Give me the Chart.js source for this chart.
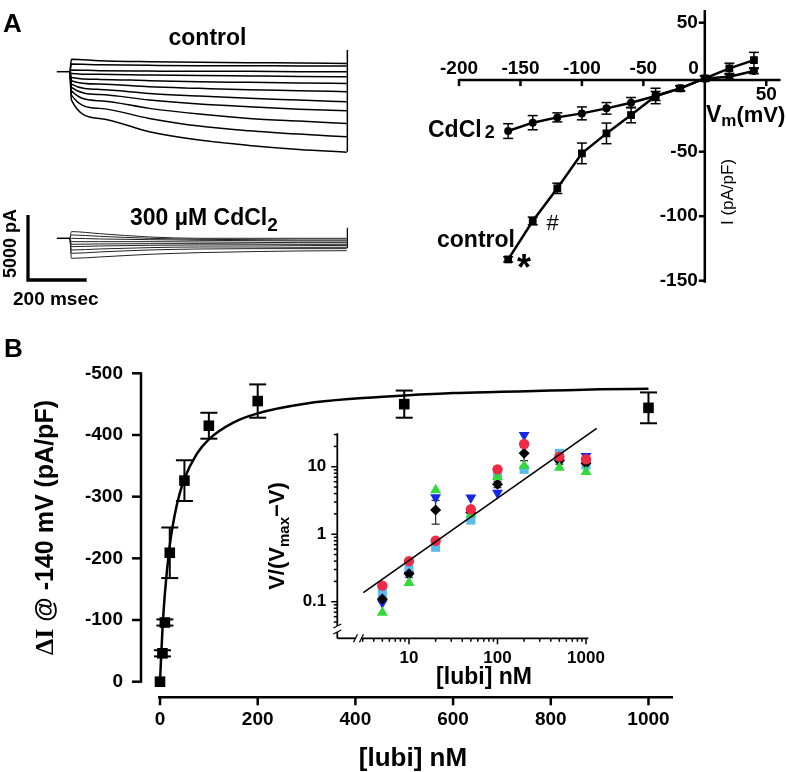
<!DOCTYPE html>
<html><head><meta charset="utf-8"><title>Lubiprostone figure</title>
<script src="https://cdn.jsdelivr.net/npm/chart.js@4.4.1/dist/chart.umd.min.js"></script>
<style>
html,body{margin:0;padding:0;background:#fff;}
#fig{position:relative;width:786px;height:772px;background:#fff;overflow:hidden;}
#fig canvas{position:absolute;left:0;top:0;width:786px;height:772px;}
</style></head>
<body><div id="fig">
<canvas id="cCtrl" width="786" height="772"></canvas>
<canvas id="cCd" width="786" height="772"></canvas>
<canvas id="cIV" width="786" height="772"></canvas>
<canvas id="cB" width="786" height="772"></canvas>
<canvas id="cIn" width="786" height="772"></canvas>
</div>
<script>
// ---------------- DATA ----------------
// Panel A: current traces (time in ms, current in pA)
const traceTimes = [5, 100, 270, 440, 610, 780, 943];
const controlTraces = [
  [950, 850, 770, 720, 690, 670, 640],
  [590, 540, 490, 460, 460, 440, 440],
  [130, 80, 50, 30, 30, 0, 0],
  [-130, -200, -260, -300, -330, -360, -385],
  [-440, -590, -690, -770, -820, -870, -900],
  [-690, -950, -1160, -1280, -1390, -1460, -1540],
  [-950, -1360, -1670, -1870, -2050, -2180, -2310],
  [-1210, -1750, -2180, -2490, -2700, -2880, -3000],
  [-1460, -2230, -2820, -3260, -3590, -3800, -3980],
  [-1800, -2820, -3590, -4180, -4540, -4800, -5000],
  [-2180, -3590, -4620, -5260, -5670, -5980, -6190]
];
const cdTraces = [
  [513, 359, 103, 0, 0, 0, 0],
  [257, 154, 0, -77, -103, -128, -128],
  [0, -51, -103, -154, -180, -205, -205],
  [-257, -257, -257, -282, -308, -334, -334],
  [-462, -436, -411, -411, -436, -462, -462],
  [-642, -590, -539, -513, -513, -539, -565],
  [-898, -821, -719, -667, -667, -693, -693],
  [-1155, -1052, -898, -821, -796, -796, -796],
  [-1540, -1437, -1232, -1104, -1027, -975, -950]
];
const holdingTimes = [-45, 0];
const tailTime = 945;
const controlTail = [1670, -6150];
const cdTail = [815, -770];
const scaleBarMs = 200;
const scaleBarPA = 5000;

// Panel A: I–V relation (mV, pA/pF)
const ivVoltages = [-160, -140, -120, -100, -80, -60, -40, -20, 0, 20, 40];
const ivControl = [-133.5, -103.7, -78.4, -51.3, -35.8, -21.6, -6.8, -0.9, 6.8, 14.6, 21];
const ivControlErr = [2, 3, 4, 8, 8, 6, 6, 2, 2, 4, 6];
const ivCd = [-34, -27.5, -23.4, -20.3, -16.4, -12, -6.8, -0.9, 6.8, 8.1, 12.5];
const ivCdErr = [5.7, 5.5, 3.5, 5, 4.5, 4, 3.5, 2, 2, 2, 2];
const ivXTicks = [-200, -150, -100, -50, 0, 50];
const ivYTicks = [50, -50, -100, -150];
const ivXAxisAt = 5.5;

// Panel B: dose response (nM, pA/pF)
const lubiConc = [0, 5, 10, 20, 50, 100, 200, 500, 1000];
const deltaI = [0, -46, -96, -209, -326, -415, -455, -450, -444];
const deltaIErr = [0, 5, 5, 41, 33, 21, 27, 22, 25];
const fitConc = [0, 5, 10, 20, 30, 40, 50, 75, 100, 150, 200, 300, 400, 500, 600, 700, 800, 900, 1000];
const fitDeltaI = [0, -84, -143, -221, -270, -304, -329, -369, -393, -420, -435, -451, -459, -464, -468, -470, -472, -474, -475];
const bXTicks = [0, 200, 400, 600, 800, 1000];
const bYTicks = [0, -100, -200, -300, -400, -500];

// Panel B inset: V/(Vmax-V) vs [lubi] (log-log)
const insetConc = [5, 10, 20, 50, 100, 200, 500, 1000];
const insetRed = [0.173, 0.40, 0.80, 2.34, 9.15, 21.7, 14.1, 12.9];
const insetLightBlue = [0.136, 0.30, 0.64, 1.62, 7.5, 9.15, 15.8, 10.6];
const insetBlue = [0.097, 0.249, 3.5, 3.47, 4.1, 29.5, 11.5, 14.4];
const insetGreen = [0.069, 0.19, 4.5, 1.97, 7.1, 10.3, 9.7, 8.4];
const insetMean = [0.11, 0.26, 2.29, 2.1, 5.5, 15.8, 12.4, 11.3];
const insetMeanErr = [0.01, 0.03, 0.88, 0.4, 0.6, 3.5, 1.5, 1.3];
const insetFitConc = [3.05, 1320];
const insetFitRatio = [0.136, 37];
const insetXTicks = [10, 100, 1000];
const insetYTicks = [0.1, 1, 10];

// ---------------- HELPERS ----------------
const SANS = "'Liberation Sans', Arial, Helvetica, sans-serif";
const SERIF = "'Liberation Serif', 'Times New Roman', serif";
const W = 786, H = 772;
const f = (sz, bold) => (bold ? 'bold ' : '') + sz + 'px ' + SANS;

function seg(ctx, pts, lw, col) {
  ctx.save(); ctx.beginPath(); ctx.lineWidth = lw; ctx.strokeStyle = col || '#000';
  ctx.moveTo(pts[0][0], pts[0][1]);
  for (let i = 1; i < pts.length; i++) ctx.lineTo(pts[i][0], pts[i][1]);
  ctx.stroke(); ctx.restore();
}
function label(ctx, s, x, y, font, align, base) {
  ctx.save(); ctx.font = font; ctx.fillStyle = '#000';
  ctx.textAlign = align || 'center'; ctx.textBaseline = base || 'middle';
  ctx.fillText(s, x, y); ctx.restore();
}
function runs(ctx, parts, x, y, rot, align) {
  ctx.save(); ctx.translate(x, y); if (rot) ctx.rotate(rot);
  ctx.fillStyle = '#000'; ctx.textAlign = 'left'; ctx.textBaseline = 'alphabetic';
  let w = 0;
  parts.forEach(p => { ctx.font = p.f; p.w = ctx.measureText(p.t).width + (p.gap || 0); w += p.w; });
  let cx = align === 'left' ? 0 : align === 'right' ? -w : -w / 2;
  parts.forEach(p => { ctx.font = p.f; ctx.fillText(p.t, cx + (p.gap || 0), p.dy || 0); cx += p.w; });
  ctx.restore();
}
function errorBars(chart, xs, ys, es, cap, lw, col) {
  const X = chart.scales.x, Y = chart.scales.y, ctx = chart.ctx;
  xs.forEach((xv, i) => {
    if (!es[i]) return;
    const px = X.getPixelForValue(xv);
    const lo = ys[i] - es[i];
    const y1 = Y.getPixelForValue(lo > 0 || Y.type !== 'logarithmic' ? lo : ys[i] * 0.5);
    const y2 = Y.getPixelForValue(ys[i] + es[i]);
    seg(ctx, [[px, y1], [px, y2]], lw, col);
    seg(ctx, [[px - cap, y1], [px + cap, y1]], lw, col);
    seg(ctx, [[px - cap, y2], [px + cap, y2]], lw, col);
  });
}
function pts(xs, ys) { return xs.map((x, i) => ({x: x, y: ys[i]})); }
function baseOptions(area, xs, ys) {
  return {
    responsive: false, animation: false, events: [], devicePixelRatio: 1,
    layout: {padding: {left: area[0], top: area[1], right: W - area[2], bottom: H - area[3]}},
    plugins: {legend: {display: false}, tooltip: {enabled: false}, title: {display: false}},
    scales: {
      x: Object.assign({display: false, bounds: 'data', grid: {display: false}}, xs),
      y: Object.assign({display: false, bounds: 'data', grid: {display: false}}, ys)
    }
  };
}
function traceSet(times, vals, w, col) {
  return {data: [{x: 0, y: 0}].concat(pts(times, vals)), borderColor: col, borderWidth: w,
    pointRadius: 0, cubicInterpolationMode: 'monotone', fill: false, clip: false};
}
function plainLine(data, w, col) {
  return {data: data, borderColor: col || '#000', borderWidth: w, pointRadius: 0, tension: 0, fill: false, clip: false};
}

// ---------------- PANEL A: control traces ----------------
new Chart(document.getElementById('cCtrl'), {
  type: 'line',
  data: {datasets: [
    plainLine(holdingTimes.map(t => ({x: t, y: 0})), 1.5),
    plainLine([{x: tailTime, y: controlTail[0]}, {x: tailTime, y: controlTail[1]}], 1.5)
  ].concat(controlTraces.map(tr => traceSet(traceTimes, tr, 1.5, '#000')))},
  options: baseOptions([50, 40, 360, 160], {type: 'linear', min: -68.1, max: 988.1}, {type: 'linear', min: -6790, max: 2438}),
  plugins: [{id: 'ctrlText', afterDraw(chart) {
    const ctx = chart.ctx;
    label(ctx, 'A', 3, 32, f(26, true), 'left', 'alphabetic');
    label(ctx, 'control', 207.5, 45, f(23, true), 'center', 'alphabetic');
  }}]
});

// ---------------- PANEL A: CdCl2 traces ----------------
new Chart(document.getElementById('cCd'), {
  type: 'line',
  data: {datasets: [
    plainLine(holdingTimes.map(t => ({x: t, y: 0})), 1.5),
    plainLine([{x: tailTime, y: cdTail[0]}, {x: tailTime, y: cdTail[1]}], 1.2)
  ].concat(cdTraces.map(tr => traceSet(traceTimes, tr, 1, '#222')))},
  options: baseOptions([50, 215, 360, 265], {type: 'linear', min: -68.1, max: 988.1}, {type: 'linear', min: -2053, max: 1792}),
  plugins: [{id: 'cdText', afterDraw(chart) {
    const ctx = chart.ctx, X = chart.scales.x, Y = chart.scales.y;
    runs(ctx, [{t: '300 µM CdCl', f: f(23, true)}, {t: '2', f: f(19, true), dy: 6}], 130, 225, 0, 'left');
    const bw = X.getPixelForValue(scaleBarMs) - X.getPixelForValue(0);
    const bh = Y.getPixelForValue(0) - Y.getPixelForValue(scaleBarPA);
    const cx = 28, cy = 280;
    seg(ctx, [[cx, cy - bh], [cx, cy], [cx + bw, cy]], 3.3);
    runs(ctx, [{t: scaleBarPA + ' pA', f: f(18, true)}], 16, cy - bh / 2 - 4, -Math.PI / 2, 'center');
    label(ctx, scaleBarMs + ' msec', 13, 305, f(19, true), 'left', 'alphabetic');
  }}]
});

// ---------------- PANEL A: I–V plot ----------------
new Chart(document.getElementById('cIV'), {
  type: 'line',
  data: {datasets: [
    {data: pts(ivVoltages, ivControl), borderColor: '#000', backgroundColor: '#000', borderWidth: 2.5,
     pointStyle: 'rect', pointRadius: 5.5, pointBorderWidth: 0, tension: 0, clip: false},
    {data: pts(ivVoltages, ivCd), borderColor: '#000', backgroundColor: '#000', borderWidth: 2.5,
     pointStyle: 'circle', pointRadius: 4, pointBorderWidth: 0, tension: 0, clip: false}
  ]},
  options: baseOptions([459, 10, 781.7, 282.7], {type: 'linear', min: -200, max: 61.6}, {type: 'linear', min: -151.55, max: 59.84}),
  plugins: [{id: 'ivAxes', beforeDatasetsDraw(chart) {
    const ctx = chart.ctx, X = chart.scales.x, Y = chart.scales.y;
    errorBars(chart, ivVoltages, ivControl, ivControlErr, 5, 1.5, '#000');
    errorBars(chart, ivVoltages, ivCd, ivCdErr, 5, 1.5, '#000');
    const x0 = X.getPixelForValue(0), yA = Y.getPixelForValue(ivXAxisAt);
    seg(ctx, [[X.getPixelForValue(-200), yA], [X.right, yA]], 2.5);
    seg(ctx, [[x0, Y.top], [x0, Y.bottom]], 2.5);
    ivXTicks.forEach(v => {
      const px = X.getPixelForValue(v);
      if (v !== 0) seg(ctx, [[px, yA - 1], [px, yA + 6]], 2.5);
      if (v === 0) label(ctx, '0', x0 - 6, yA - 11, f(19, true), 'right', 'middle');
      else if (v > 0) label(ctx, String(v), px, yA + 15, f(19, true), 'center', 'middle');
      else label(ctx, String(v), px, yA - 11, f(19, true), 'center', 'middle');
    });
    ivYTicks.forEach(v => {
      const py = Y.getPixelForValue(v);
      seg(ctx, [[x0 - 6, py], [x0, py]], 2.5);
      label(ctx, String(v), x0 - 7, py, f(19, true), 'right', 'middle');
    });
  }, afterDraw(chart) {
    const ctx = chart.ctx;
    runs(ctx, [{t: 'CdCl', f: f(23, true)}, {t: '2', f: f(18, true), gap: 3, dy: 1}], 428, 137, 0, 'left');
    label(ctx, 'control', 437, 247, f(23, true), 'left', 'alphabetic');
    label(ctx, '#', 552.5, 224, f(22, false), 'center', 'middle');
    label(ctx, '*', 524, 270, 'bold 36px ' + SANS, 'center', 'middle');
    runs(ctx, [{t: 'V', f: f(23, true)}, {t: 'm', f: f(17, true), dy: 4}, {t: '(mV)', f: f(22, true)}], 706, 121.5, 0, 'left');
    runs(ctx, [{t: 'I (pA/pF)', f: f(17, false)}], 733, 192, -Math.PI / 2, 'center');
  }}]
});

// ---------------- PANEL B: main dose response ----------------
new Chart(document.getElementById('cB'), {
  type: 'line',
  data: {datasets: [
    {data: pts(fitConc, fitDeltaI), borderColor: '#000', borderWidth: 2.5, pointRadius: 0,
     cubicInterpolationMode: 'monotone', fill: false, clip: false},
    {data: pts(lubiConc, deltaI), showLine: false, backgroundColor: '#000', borderColor: '#000',
     pointStyle: 'rect', pointRadius: 7.5, pointBorderWidth: 0, clip: false}
  ]},
  options: baseOptions([141, 373.3, 673, 697.3], {type: 'linear', min: -38.9, max: 1050.2},
    {type: 'linear', min: -500, max: 25.3, reverse: true}),
  plugins: [{id: 'bAxes', beforeDatasetsDraw(chart) {
    const ctx = chart.ctx, X = chart.scales.x, Y = chart.scales.y;
    errorBars(chart, lubiConc, deltaI, deltaIErr, 8.5, 2, '#000');
    const ax = X.left;
    seg(ctx, [[ax, Y.getPixelForValue(-500) - 1], [ax, Y.getPixelForValue(0) + 1]], 2.5);
    bYTicks.forEach(v => {
      const py = Y.getPixelForValue(v);
      seg(ctx, [[ax - 9, py], [ax, py]], 2.5);
      label(ctx, String(v), ax - 18, py, f(19, true), 'right', 'middle');
    });
    const yb = Y.bottom;
    seg(ctx, [[X.getPixelForValue(-4), yb], [X.right, yb]], 2.5);
    bXTicks.forEach(v => {
      const px = X.getPixelForValue(v);
      seg(ctx, [[px, yb], [px, yb + 8]], 2.5);
      label(ctx, String(v), px, yb + 22, f(19, true), 'center', 'middle');
    });
  }, afterDraw(chart) {
    const ctx = chart.ctx;
    label(ctx, 'B', 4, 357, f(26, true), 'left', 'alphabetic');
    label(ctx, '[lubi] nM', 413, 766, f(26, true), 'center', 'alphabetic');
    runs(ctx, [{t: 'ΔI', f: 'bold 26px ' + SERIF}, {t: ' @ -140 mV (pA/pF)', f: f(25, true)}], 53, 527.5, -Math.PI / 2, 'center');
  }}]
});

// ---------------- PANEL B: inset (log-log) ----------------
function scat(vals, style, r, col, order, rot) {
  return {data: pts(insetConc, vals), showLine: false, pointStyle: style, pointRadius: r,
    pointRotation: rot || 0, backgroundColor: col, borderColor: col, pointBorderWidth: 0, order: order, clip: false};
}
new Chart(document.getElementById('cIn'), {
  type: 'line',
  data: {datasets: [
    {data: pts(insetFitConc, insetFitRatio), borderColor: '#000', borderWidth: 1.6, pointRadius: 0, tension: 0, order: 0, clip: false},
    scat(insetRed, 'circle', 5.2, '#ee2a45', 1),
    scat(insetGreen, 'triangle', 6.3, '#33d93a', 2),
    scat(insetMean, 'rectRot', 5.5, '#000', 3),
    scat(insetBlue, 'triangle', 6.3, '#1428e6', 4, 180),
    scat(insetLightBlue, 'rect', 6.4, '#5bbcec', 5)
  ]},
  options: baseOptions([337.3, 433.3, 588.3, 638.3], {type: 'logarithmic', min: 1.549, max: 1062},
    {type: 'logarithmic', min: 0.0287, max: 31.3}),
  plugins: [{id: 'inAxes', beforeDatasetsDraw(chart) {
    const ctx = chart.ctx, X = chart.scales.x, Y = chart.scales.y;
    errorBars(chart, insetConc, insetMean, insetMeanErr, 4, 1.3, '#333');
    const ax = X.left, yb = Y.bottom;
    const brY = 629;
    seg(ctx, [[ax, Y.top], [ax, brY - 3]], 1.8);
    seg(ctx, [[ax, brY + 3], [ax, yb]], 1.8);
    seg(ctx, [[ax - 4, brY - 1], [ax + 4, brY - 5]], 1.3);
    seg(ctx, [[ax - 4, brY + 5], [ax + 4, brY + 1]], 1.3);
    for (let e = -2; e <= 1; e++) for (let k = 1; k < 10; k++) {
      const v = k * Math.pow(10, e);
      if (v < 0.05 || v > 30.5) continue;
      const py = Y.getPixelForValue(v);
      seg(ctx, [[ax - (k === 1 ? 6 : 3.5), py], [ax, py]], 1.5);
    }
    insetYTicks.forEach(v => label(ctx, String(v), ax - 11, Y.getPixelForValue(v), f(17, true), 'right', 'middle'));
    const brX = 358.5;
    seg(ctx, [[ax, yb], [brX - 3, yb]], 1.8);
    seg(ctx, [[brX + 3, yb], [X.right, yb]], 1.8);
    seg(ctx, [[brX - 5, yb + 4], [brX - 1, yb - 4]], 1.3);
    seg(ctx, [[brX + 1, yb + 4], [brX + 5, yb - 4]], 1.3);
    for (let e = 0; e <= 3; e++) for (let k = 1; k < 10; k++) {
      const v = k * Math.pow(10, e);
      if (v < 3 || v > 1000) continue;
      const px = X.getPixelForValue(v);
      seg(ctx, [[px, yb], [px, yb + (k === 1 ? 6 : 3.5)]], 1.5);
    }
    insetXTicks.forEach(v => label(ctx, String(v), X.getPixelForValue(v), yb + 20, f(17, true), 'center', 'middle'));
  }, afterDraw(chart) {
    const ctx = chart.ctx;
    label(ctx, '[lubi] nM', 484, 684, f(23, true), 'center', 'alphabetic');
    runs(ctx, [{t: 'V/(V', f: f(22, true)}, {t: 'max', f: f(15, true), dy: 5}, {t: '\u2212V)', f: f(22, true)}],
      284, 536, -Math.PI / 2, 'center');
  }}]
});
</script>
</body></html>
